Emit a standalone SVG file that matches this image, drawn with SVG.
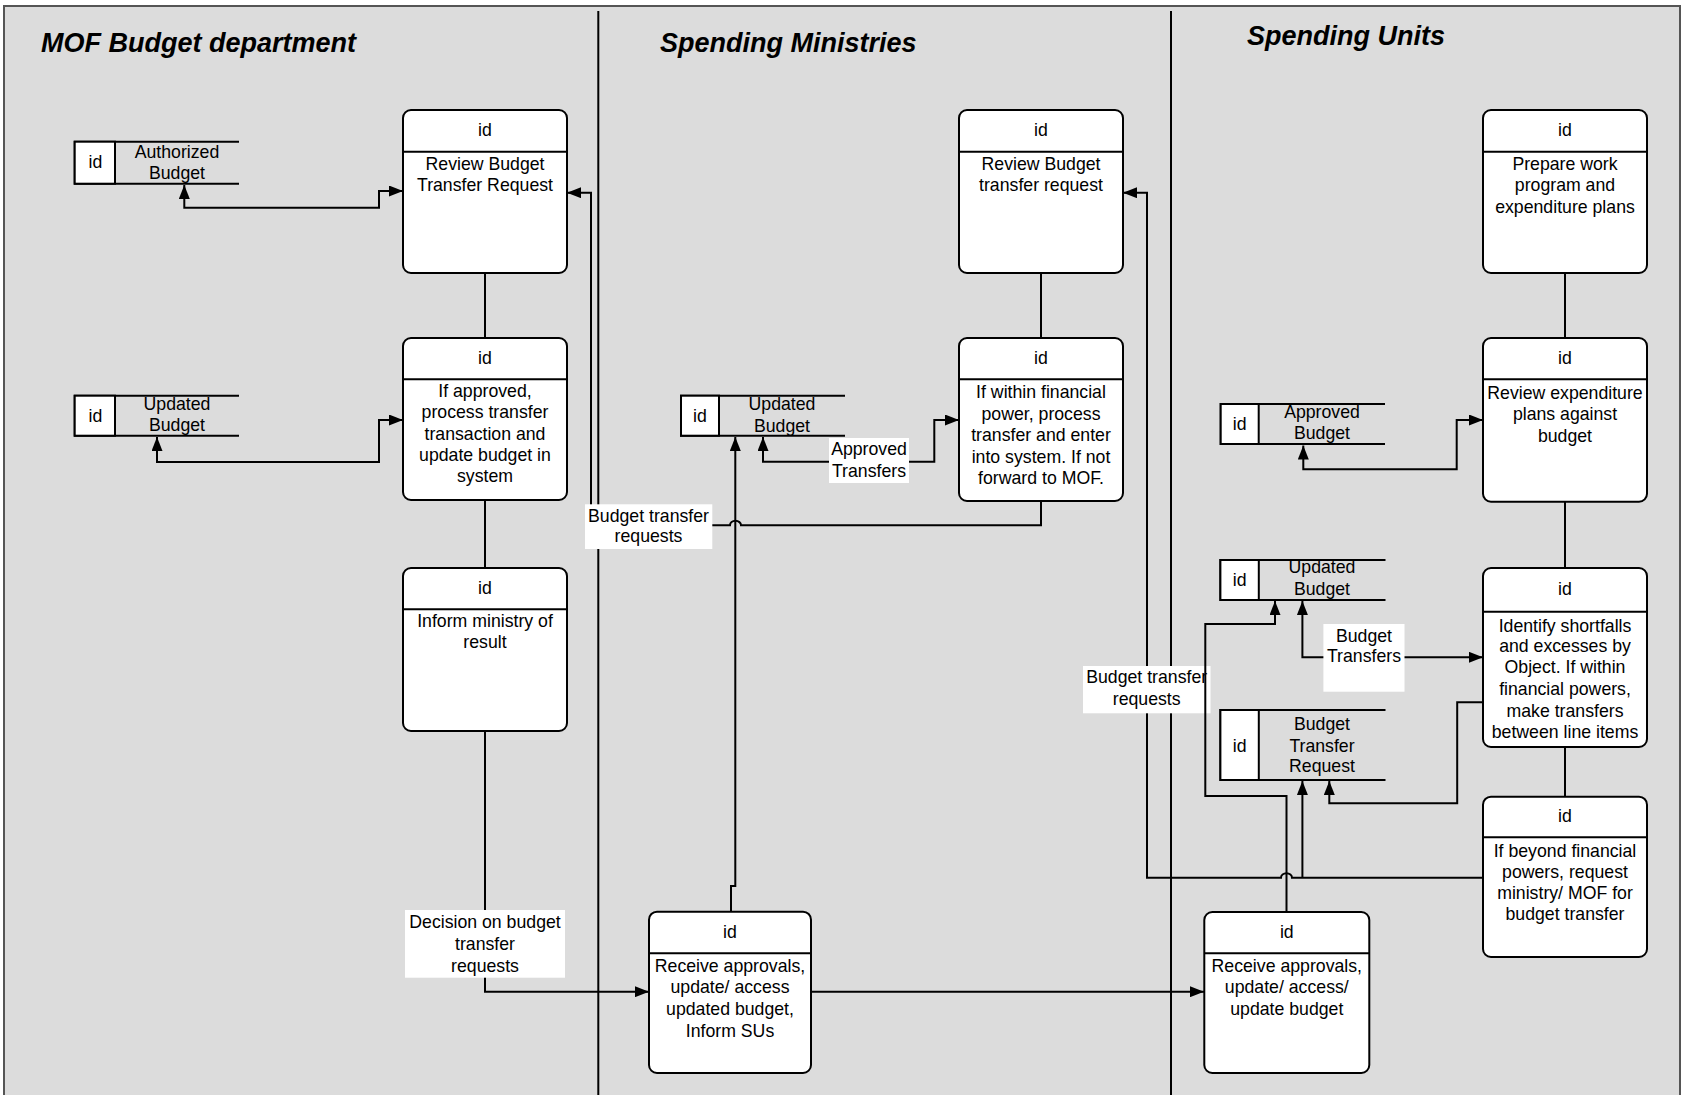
<svg xmlns="http://www.w3.org/2000/svg" width="1681" height="1095" viewBox="0 0 1681 1095">
  <style>
    text { font-family: "Liberation Sans", Arial, sans-serif; font-size: 17.7px; fill: #000; text-anchor: middle; }
    .lane-title { font-size: 27px; font-weight: bold; font-style: italic; text-anchor: start; }
    .box { fill: #fff; stroke: #000; stroke-width: 2; }
    .rule { stroke: #000; stroke-width: 2; fill: none; }
    .cell { fill: #fff; stroke: #000; stroke-width: 2; }
    .divider { stroke: #000; stroke-width: 2; }
    .conn path { fill: none; stroke: #000; stroke-width: 2; }
    .lbl { fill: #fff; stroke: none; }
    .arr { marker-end: url(#tip); }
    .arr2 { marker-start: url(#tip); marker-end: url(#tip); }
  </style>
  <defs>
    <marker id="tip" viewBox="0 0 14 11" refX="14" refY="5.5" markerWidth="14" markerHeight="11" markerUnits="userSpaceOnUse" orient="auto-start-reverse">
      <path d="M0,0 L14,5.5 L0,11 Z" fill="#000"/>
    </marker>
  </defs>

  <!-- swimlane frame -->
  <g id="lanes">
    <rect x="4" y="6" width="1676" height="1100" fill="#dcdcdc" stroke="#555" stroke-width="2"/>
    <line class="divider" x1="598.3" y1="11" x2="598.3" y2="1095"/>
    <line class="divider" x1="1171" y1="11" x2="1171" y2="1095"/>
    <text class="lane-title" x="41" y="51.5">MOF Budget department</text>
    <text class="lane-title" x="660" y="51.7">Spending Ministries</text>
    <text class="lane-title" x="1247" y="45">Spending Units</text>
  </g>

  <!-- connectors -->
  <g id="connectors" class="conn">
    <!-- MOF lane -->
    <path class="arr2" d="M184.3,185 V207.7 H379 V191 H403"/>
    <path class="arr2" d="M157,437 V462 H379 V420 H403"/>
    <path d="M485,273 V338"/>
    <path d="M485,500 V568"/>
    <g id="c-decision">
      <path class="arr" d="M485,731 V991.7 H649"/>
      <rect class="lbl" x="405" y="910" width="160" height="67.7"/>
      <text x="485" y="927.7">Decision on budget</text>
      <text x="485" y="949.7">transfer</text>
      <text x="485" y="971.5">requests</text>
    </g>

    <!-- Spending ministries lane -->
    <path d="M1041,273 V338"/>
    <path class="arr" d="M731,911.7 V886 H735.3 V437"/>
    <g id="c-mof-request">
      <path class="arr" d="M1041,501 V525.3 H741 A5.5,4.5 0 0 0 730,525.3 H591 V192.7 H567"/>
      <rect class="lbl" x="585" y="504.3" width="127.3" height="44.7"/>
      <text x="648.5" y="521.7">Budget transfer</text>
      <text x="648.5" y="541.7">requests</text>
    </g>
    <g id="c-approved">
      <path class="arr2" d="M763,437 V461.7 H934.3 V420 H959"/>
      <rect class="lbl" x="829" y="438" width="80" height="45"/>
      <text x="869" y="455">Approved</text>
      <text x="869" y="476.7">Transfers</text>
    </g>
    <path class="arr" d="M811,991.7 H1204"/>

    <!-- Spending units lane -->
    <path d="M1565,273 V338"/>
    <path d="M1565,501.7 V568"/>
    <path d="M1565,747 V796.7"/>
    <path class="arr2" d="M1303.3,445.5 V469.3 H1456.7 V420 H1483"/>
    <g id="c-su-request">
      <path class="arr" d="M1483,877.7 H1292 A5.5,4.5 0 0 0 1281,877.7 H1147 V192.7 H1123"/>
      <path class="arr" d="M1302.4,877.7 V781"/>
      <rect class="lbl" x="1083" y="666" width="127.5" height="47.3"/>
      <text x="1146.7" y="683.3">Budget transfer</text>
      <text x="1146.7" y="705">requests</text>
    </g>
    <path class="arr" d="M1286.5,912 V796 H1205.3 V624 H1275 V601"/>
    <g id="c-budget-transfers">
      <path class="arr2" d="M1302.4,601 V657.3 H1483"/>
      <rect class="lbl" x="1323.4" y="624" width="81.1" height="67.7"/>
      <text x="1364" y="641.7">Budget</text>
      <text x="1364" y="661.7">Transfers</text>
    </g>
    <path class="arr" d="M1483,702.3 H1457.2 V803.3 H1329.3 V781"/>
  </g>

  <!-- data stores -->
  <g id="store-authorized-budget">
    <path class="rule" d="M239,141.7 H74.7 V183.7 H239"/>
    <rect class="cell" x="74.7" y="141.7" width="40.3" height="42"/>
    <text x="95.5" y="168.3">id</text>
    <text x="177" y="158.3">Authorized</text>
    <text x="177" y="179.3">Budget</text>
  </g>
  <g id="store-mof-updated-budget">
    <text x="177" y="410">Updated</text>
    <text x="177" y="431">Budget</text>
    <path class="rule" d="M239,395.7 H74.7 V435.7 H239"/>
    <rect class="cell" x="74.7" y="395.7" width="40.3" height="40"/>
    <text x="95.5" y="422">id</text>
  </g>
  <g id="store-sm-updated-budget">
    <text x="782" y="410">Updated</text>
    <text x="782" y="431.5">Budget</text>
    <path class="rule" d="M845,395.7 H681 V435.7 H845"/>
    <rect class="cell" x="681" y="395.7" width="38" height="40"/>
    <text x="700" y="422">id</text>
  </g>
  <g id="store-approved-budget">
    <text x="1322" y="418.3">Approved</text>
    <text x="1322" y="439.3">Budget</text>
    <path class="rule" d="M1385,404 H1220.7 V444 H1385"/>
    <rect class="cell" x="1220.7" y="404" width="38" height="40"/>
    <text x="1239.7" y="430.3">id</text>
  </g>
  <g id="store-su-updated-budget">
    <text x="1322" y="573.3">Updated</text>
    <text x="1322" y="595">Budget</text>
    <path class="rule" d="M1385.5,560 H1220.4 V600 H1385.5"/>
    <rect class="cell" x="1220.4" y="560" width="38.4" height="40"/>
    <text x="1239.6" y="586.3">id</text>
  </g>
  <g id="store-budget-transfer-request">
    <path class="rule" d="M1385.5,710 H1220.4 V780 H1385.5"/>
    <rect class="cell" x="1220.4" y="710" width="38.4" height="70"/>
    <text x="1239.6" y="751.5">id</text>
    <text x="1322" y="730">Budget</text>
    <text x="1322" y="751.7">Transfer</text>
    <text x="1322" y="771.7">Request</text>
  </g>

  <!-- MOF budget department processes -->
  <g id="mof-review">
    <rect class="box" x="403" y="110" width="164" height="163" rx="8"/>
    <line class="rule" x1="403" y1="151.7" x2="567" y2="151.7"/>
    <text x="485" y="135.7">id</text>
    <text x="485" y="170">Review Budget</text>
    <text x="485" y="191">Transfer Request</text>
  </g>
  <g id="mof-process">
    <rect class="box" x="403" y="338" width="164" height="162" rx="8"/>
    <line class="rule" x1="403" y1="379.3" x2="567" y2="379.3"/>
    <text x="485" y="363.5">id</text>
    <text x="485" y="396.5">If approved,</text>
    <text x="485" y="418">process transfer</text>
    <text x="485" y="439.5">transaction and</text>
    <text x="485" y="460.5">update budget in</text>
    <text x="485" y="481.5">system</text>
  </g>
  <g id="mof-inform">
    <rect class="box" x="403" y="568" width="164" height="163" rx="8"/>
    <line class="rule" x1="403" y1="609.3" x2="567" y2="609.3"/>
    <text x="485" y="593.5">id</text>
    <text x="485" y="626.5">Inform ministry of</text>
    <text x="485" y="647.5">result</text>
  </g>

  <!-- spending ministries processes -->
  <g id="sm-review">
    <rect class="box" x="959" y="110" width="164" height="163" rx="8"/>
    <line class="rule" x1="959" y1="151.7" x2="1123" y2="151.7"/>
    <text x="1041" y="135.7">id</text>
    <text x="1041" y="170">Review Budget</text>
    <text x="1041" y="191">transfer request</text>
  </g>
  <g id="sm-process">
    <rect class="box" x="959" y="338" width="164" height="163" rx="8"/>
    <line class="rule" x1="959" y1="379.3" x2="1123" y2="379.3"/>
    <text x="1041" y="363.5">id</text>
    <text x="1041" y="398">If within financial</text>
    <text x="1041" y="419.5">power, process</text>
    <text x="1041" y="441">transfer and enter</text>
    <text x="1041" y="462.5">into system. If not</text>
    <text x="1041" y="484">forward to MOF.</text>
  </g>
  <g id="sm-receive">
    <rect class="box" x="649" y="911.7" width="162" height="161.3" rx="8"/>
    <line class="rule" x1="649" y1="953.3" x2="811" y2="953.3"/>
    <text x="730" y="937.5">id</text>
    <text x="730" y="971.7">Receive approvals,</text>
    <text x="730" y="993.3">update/ access</text>
    <text x="730" y="1015">updated budget,</text>
    <text x="730" y="1036.7">Inform SUs</text>
  </g>

  <!-- spending units processes -->
  <g id="su-prepare">
    <rect class="box" x="1483" y="110" width="164" height="163" rx="8"/>
    <line class="rule" x1="1483" y1="151.7" x2="1647" y2="151.7"/>
    <text x="1565" y="135.7">id</text>
    <text x="1565" y="170">Prepare work</text>
    <text x="1565" y="191">program and</text>
    <text x="1565" y="212.5">expenditure plans</text>
  </g>
  <g id="su-review">
    <rect class="box" x="1483" y="338" width="164" height="163.7" rx="8"/>
    <line class="rule" x1="1483" y1="379.3" x2="1647" y2="379.3"/>
    <text x="1565" y="363.5">id</text>
    <text x="1565" y="398.5">Review expenditure</text>
    <text x="1565" y="420">plans against</text>
    <text x="1565" y="441.5">budget</text>
  </g>
  <g id="su-identify">
    <rect class="box" x="1483" y="568" width="164" height="179" rx="8"/>
    <line class="rule" x1="1483" y1="611.7" x2="1647" y2="611.7"/>
    <text x="1565" y="595">id</text>
    <text x="1565" y="631.7">Identify shortfalls</text>
    <text x="1565" y="652">and excesses by</text>
    <text x="1565" y="673.3">Object. If within</text>
    <text x="1565" y="695">financial powers,</text>
    <text x="1565" y="716.5">make transfers</text>
    <text x="1565" y="738">between line items</text>
  </g>
  <g id="su-request">
    <rect class="box" x="1483" y="796.7" width="164" height="160.3" rx="8"/>
    <line class="rule" x1="1483" y1="837.3" x2="1647" y2="837.3"/>
    <text x="1565" y="822">id</text>
    <text x="1565" y="856.7">If beyond financial</text>
    <text x="1565" y="877.5">powers, request</text>
    <text x="1565" y="899">ministry/ MOF for</text>
    <text x="1565" y="920">budget transfer</text>
  </g>
  <g id="su-receive">
    <rect class="box" x="1204.3" y="912" width="165" height="161" rx="8"/>
    <line class="rule" x1="1204.3" y1="953.3" x2="1369.3" y2="953.3"/>
    <text x="1286.8" y="937.5">id</text>
    <text x="1286.8" y="971.7">Receive approvals,</text>
    <text x="1286.8" y="993.3">update/ access/</text>
    <text x="1286.8" y="1015">update budget</text>
  </g>
</svg>
